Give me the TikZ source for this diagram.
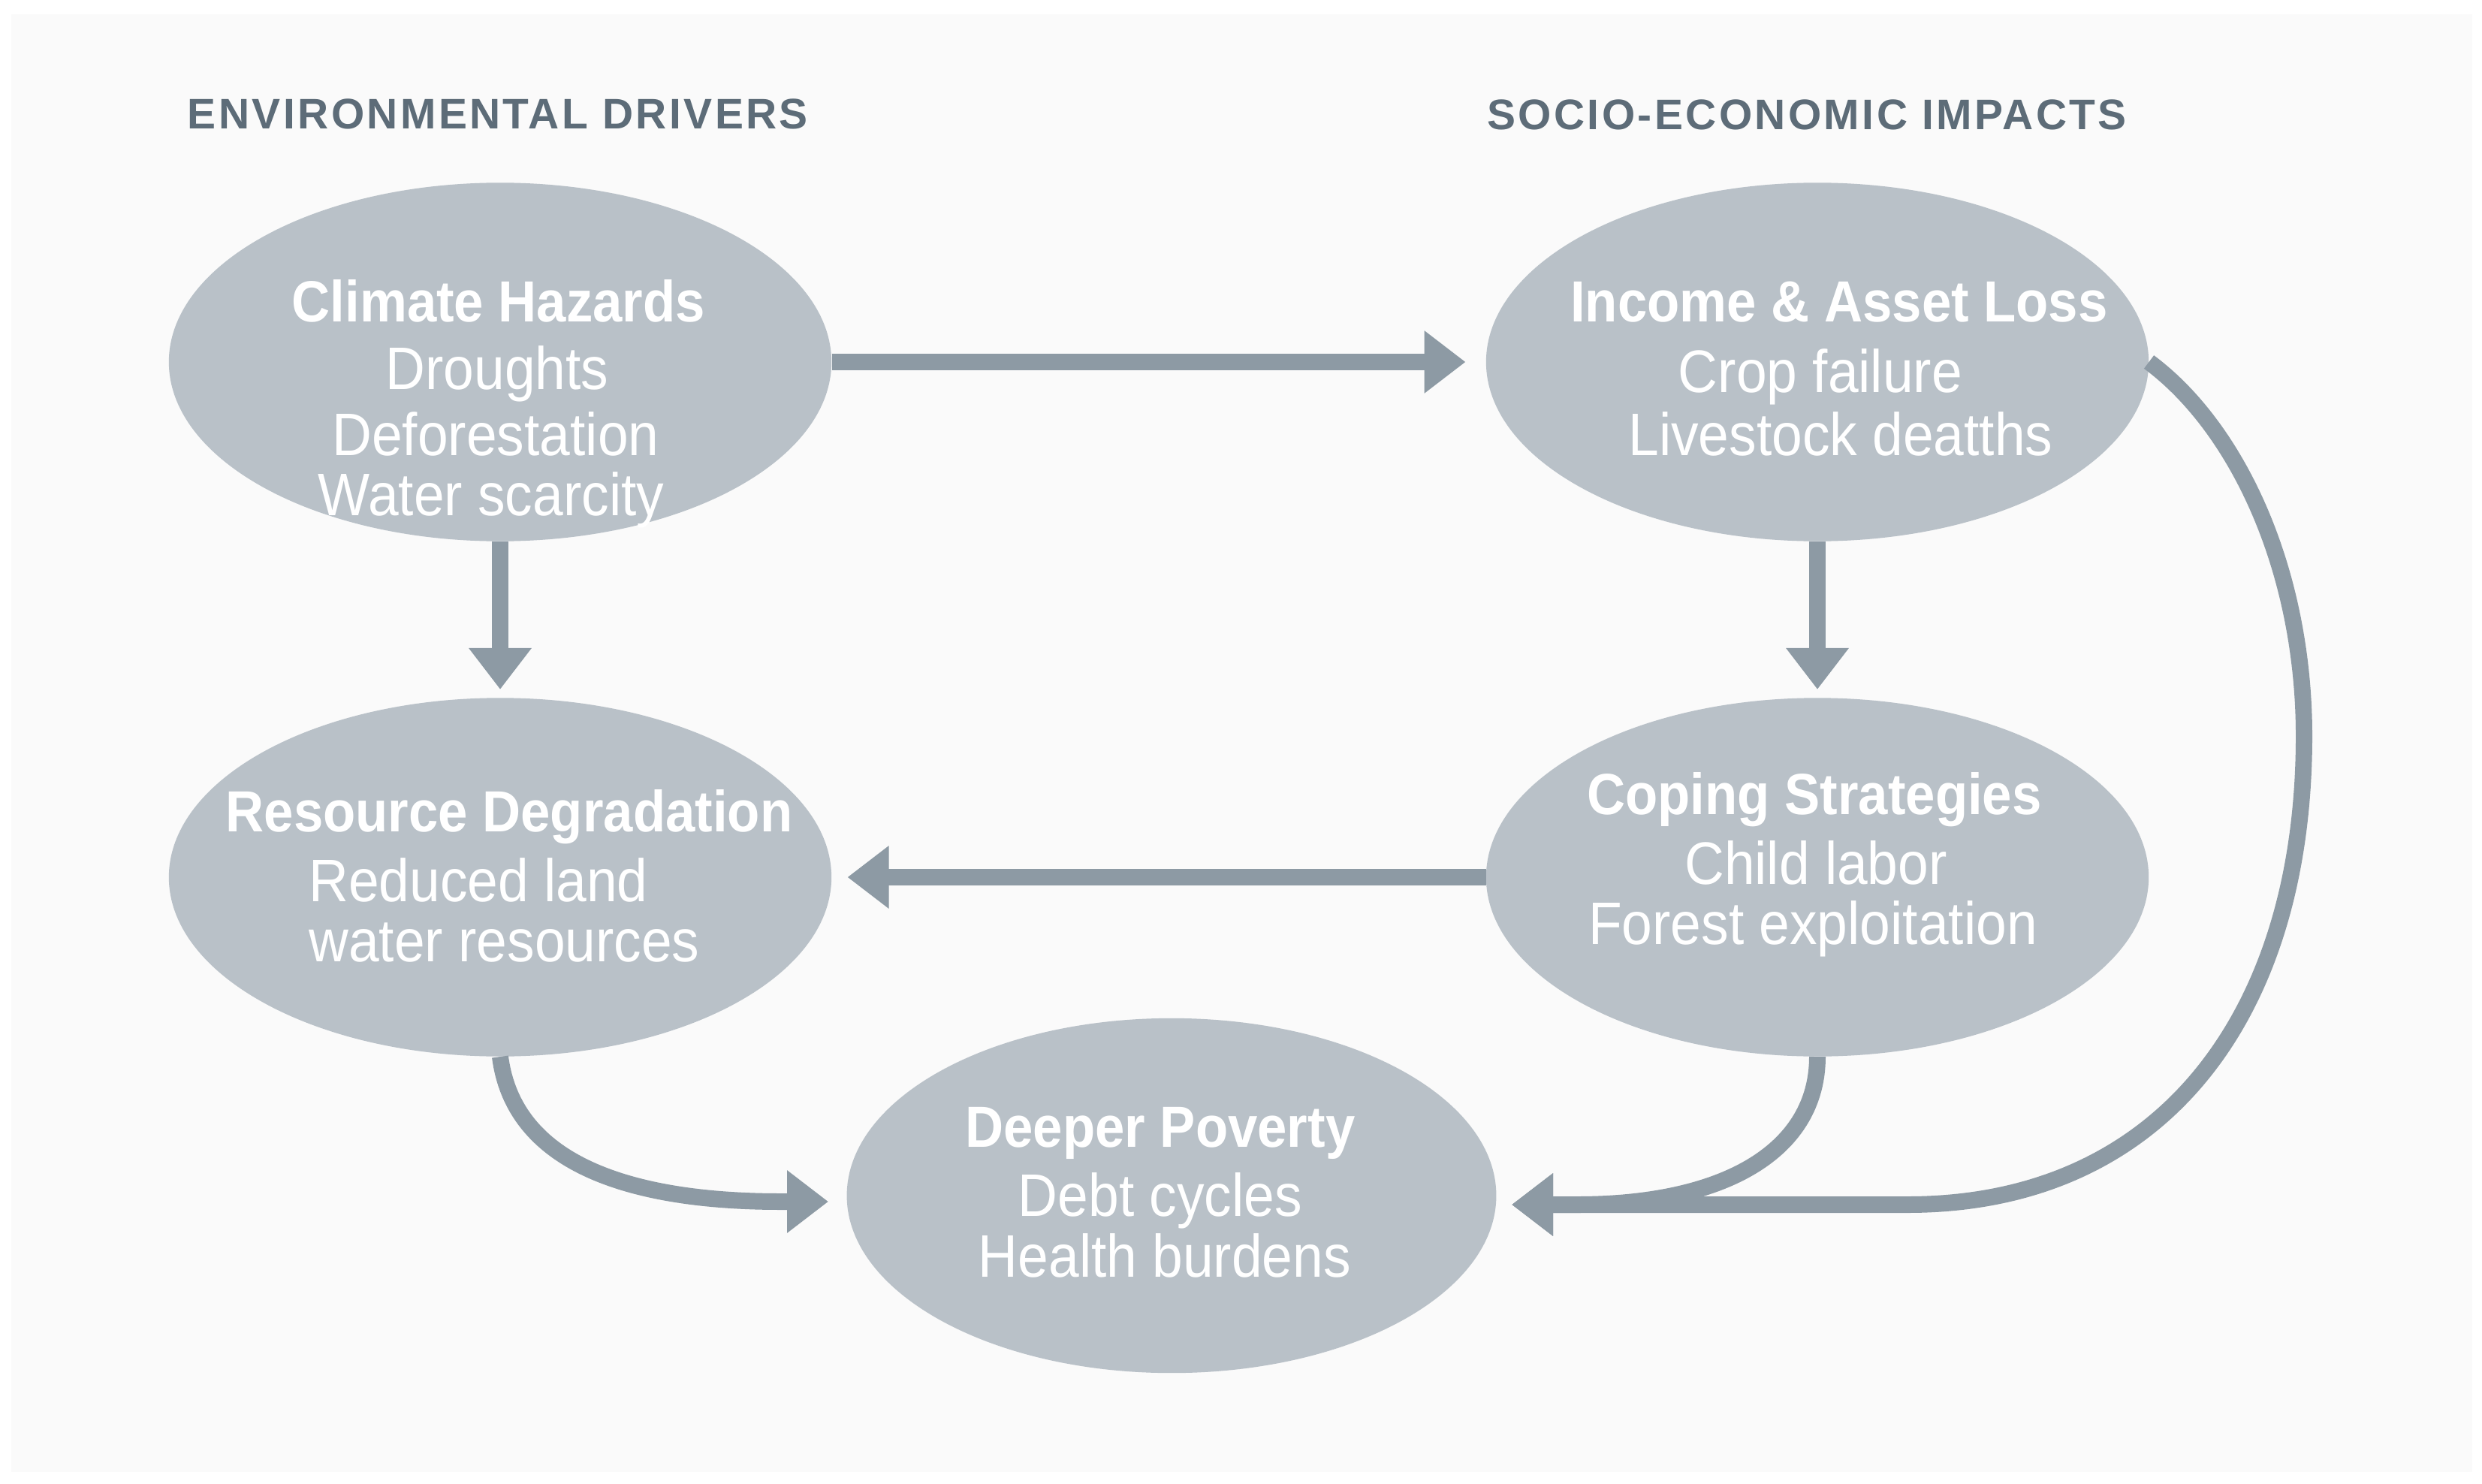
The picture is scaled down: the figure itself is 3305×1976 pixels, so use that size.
\documentclass[tikz,border=0pt]{standalone}
\usepackage{fontspec}
\setmainfont{Liberation Sans}
\newfontfamily\headfont[LetterSpace=6]{Liberation Sans}
\newfontfamily\ellfont[FakeStretch=0.915]{Liberation Sans}
\usetikzlibrary{shapes.geometric,arrows.meta}
\definecolor{ellfill}{HTML}{B9C1C8}
\definecolor{arr}{HTML}{8D9AA4}
\definecolor{headc}{HTML}{5D6C78}
\definecolor{bgc}{HTML}{FAFAFA}
\begin{document}
\begin{tikzpicture}[x=0.02cm,y=-0.02cm,
 ell/.style={ellipse, fill=ellfill, inner sep=0pt, minimum width=17.65cm, minimum height=9.55cm},
 ttl/.style={text=white, font=\ellfont\fontsize{44}{50}\selectfont\bfseries, anchor=base, inner sep=0pt},
 itm/.style={text=white, font=\ellfont\fontsize{45.5}{50}\selectfont, anchor=base, inner sep=0pt},
 hdr/.style={text=headc, font=\headfont\fontsize{32.4}{40}\selectfont\bfseries, anchor=base, inner sep=0pt},
 conn/.style={draw=arr, line width=0.44cm, -{Triangle[length=1.1cm,width=1.6cm]}},
]
\useasboundingbox (0,0) rectangle (3305,1976);
\fill[white] (0,0) rectangle (3305,1976);
\fill[bgc] (15,19) rectangle (3292,1960);

% headings
\node[hdr] (hL) at (663,172) {ENVIRONMENTAL DRIVERS};
\node[hdr] (hR) at (2406,173) {SOCIO-ECONOMIC IMPACTS};

% ellipses
\node[ell] (ch) at (666,482) {};
\node[ell] (ial) at (2420,482) {};
\node[ell] (rd) at (666,1168) {};
\node[ell] (cs) at (2420,1168) {};
\node[ell, minimum width=17.3cm, minimum height=9.45cm] (dp) at (1560,1592) {};

\coordinate (dpL) at (1103,1600);
\coordinate (dpR) at (2013,1604);

% connectors
\draw[conn, shorten >=0.54cm] (ch.east) -- (ial.west);
\draw[conn, shorten >=0.22cm] (ch.south) -- (rd.north);
\draw[conn, shorten >=0.22cm] (ial.south) -- (cs.north);
\draw[conn, shorten >=0.42cm] (cs.west) -- (rd.east);
\draw[conn] (rd.south) .. controls (685,1555) and (850,1600) .. (1040,1600) -- (dpL);
\draw[conn] (cs.south) .. controls (2420,1530) and (2300,1604) .. (2100,1604) -- (dpR);
\draw[conn] (ial.east) .. controls (2980,570) and (3068,760) .. (3068,980)
  .. controls (3068,1350) and (2880,1604) .. (2540,1604) -- (dpR);

% texts
\node[ttl] (ch-t) at (664,429) {Climate Hazards};
\node[itm] (ch-1) at (662,519) {Droughts};
\node[itm] (ch-2) at (660,606) {Deforestation};
\node[itm] (ch-3) at (654,686) {Water scarcity};

\node[ttl] (ial-t) at (2449,429) {Income \& Asset Loss};
\node[itm] (ial-1) at (2424,522) {Crop failure};
\node[itm] (ial-2) at (2451,606) {Livestock deatths};

\node[ttl] (rd-t) at (678,1107) {Resource Degradation};
\node[itm, anchor=base west] (rd-1) at (411,1200) {Reduced land};
\node[itm, anchor=base west] (rd-2) at (411,1280) {water resources};

\node[ttl] (cs-t) at (2416,1084) {Coping Strategies};
\node[itm] (cs-1) at (2418,1177) {Child labor};
\node[itm] (cs-2) at (2414,1257) {Forest exploitation};

\node[ttl] (dp-t) at (1545,1527) {Deeper Poverty};
\node[itm] (dp-1) at (1545,1619) {Debt cycles};
\node[itm] (dp-2) at (1551,1700) {Health burdens};
\end{tikzpicture}
\end{document}
